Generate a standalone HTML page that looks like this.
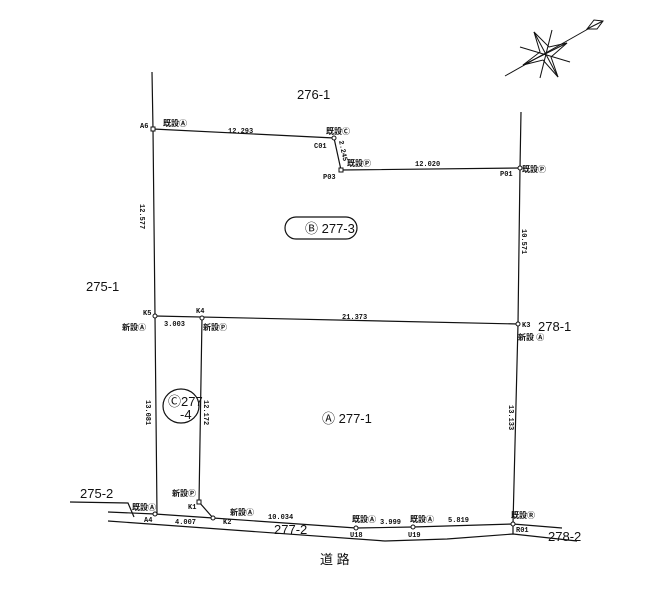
<!DOCTYPE html>
<html><head><meta charset="utf-8"><style>
html,body{margin:0;padding:0;background:#fff;}
svg{display:block;}
text{font-family:"Liberation Sans","Noto Sans CJK JP",sans-serif;fill:#111;}
.s{font-size:7px;font-family:"Liberation Mono",monospace;font-weight:bold;}
.m{font-size:8px;font-weight:bold;}
.l{font-size:13px;}
</style></head><body>
<svg width="662" height="600" viewBox="0 0 662 600" xmlns="http://www.w3.org/2000/svg">
<g stroke="#111" stroke-width="1.2" fill="none">
<polyline points="152,72 153,129 155,316 157,514"/>
<polyline points="521,112 520,168 518,324 513,524"/>
<polyline points="153,129 334,138 341,170 520,168"/>
<line x1="155" y1="316" x2="518" y2="324"/>
<polyline points="202,318 199,502 213,518"/>
<polyline points="108,512 155,514 213,518 356,528 413,527 513,524 562,528"/>
<polyline points="108,521 385,541 447,539 513,534 577,541"/>
<line x1="513" y1="524" x2="513" y2="534"/>
<polyline points="70,502 128,503 134,517"/>
<rect x="285" y="217" width="72" height="22" rx="11"/>
<ellipse cx="181" cy="406" rx="18" ry="17"/>
<g stroke-width="1">
<line x1="505" y1="76" x2="588" y2="29"/>
<polygon points="587,29 594,20 603,21 597,29"/>
<line x1="587" y1="29" x2="603" y2="21"/>
<polygon points="534,32 549,47 567,43 551,57 558,77 543,60 523,65 540,52"/>
<line x1="534" y1="32" x2="558" y2="77"/>
<line x1="523" y1="65" x2="567" y2="43"/>
<line x1="520" y1="47" x2="570" y2="62"/>
<line x1="552" y1="30" x2="540" y2="78"/>
</g>
</g>
<g stroke="#111" stroke-width="1" fill="#fff">
<rect x="151" y="127" width="4" height="4"/>
<circle cx="334" cy="138" r="2"/>
<rect x="339" y="168" width="4" height="4"/>
<circle cx="520" cy="168" r="2"/>
<circle cx="155" cy="316" r="2"/>
<circle cx="202" cy="318" r="2"/>
<circle cx="518" cy="324" r="2"/>
<rect x="197" y="500" width="4" height="4"/>
<circle cx="213" cy="518" r="2"/>
<circle cx="155" cy="514" r="2"/>
<circle cx="356" cy="528" r="2"/>
<circle cx="413" cy="527" r="2"/>
<circle cx="513" cy="524" r="2"/>
</g>
<text class="l" x="297" y="99">276-1</text>
<text class="l" x="86" y="291">275-1</text>
<text class="l" x="538" y="331">278-1</text>
<text class="l" x="80" y="498">275-2</text>
<text class="l" x="548" y="541">278-2</text>
<text class="l" x="274" y="534">277-2</text>
<text class="l" x="320" y="564">道 路</text>
<text class="l" x="305" y="233">Ⓑ 277-3</text>
<text class="l" x="322" y="423">Ⓐ 277-1</text>
<text class="l" x="168" y="406">Ⓒ277</text>
<text class="l" x="180" y="419">-4</text>
<text class="s" x="140" y="128">A6</text>
<text class="m" x="163" y="126">既設Ⓐ</text>
<text class="s" x="228" y="133">12.293</text>
<text class="m" x="326" y="134">既設Ⓒ</text>
<text class="s" x="314" y="148">C01</text>
<text class="s" x="339" y="141" transform="rotate(78 339 141)">2.245</text>
<text class="m" x="347" y="166">既設Ⓟ</text>
<text class="s" x="323" y="179">P03</text>
<text class="s" x="415" y="166">12.020</text>
<text class="s" x="500" y="176">P01</text>
<text class="m" x="522" y="172">既設Ⓟ</text>
<text class="s" x="140" y="204" transform="rotate(90 140 204)">12.577</text>
<text class="s" x="522" y="229" transform="rotate(90 522 229)">10.571</text>
<text class="s" x="143" y="315">K5</text>
<text class="s" x="196" y="313">K4</text>
<text class="m" x="122" y="330">新設Ⓐ</text>
<text class="s" x="164" y="326">3.003</text>
<text class="m" x="203" y="330">新設Ⓟ</text>
<text class="s" x="342" y="319">21.373</text>
<text class="s" x="522" y="327">K3</text>
<text class="m" x="518" y="340">新設 Ⓐ</text>
<text class="s" x="146" y="400" transform="rotate(90 146 400)">13.081</text>
<text class="s" x="204" y="400" transform="rotate(90 204 400)">12.172</text>
<text class="s" x="509" y="405" transform="rotate(90 509 405)">13.133</text>
<text class="m" x="172" y="496">新設Ⓟ</text>
<text class="s" x="188" y="509">K1</text>
<text class="s" x="223" y="524">K2</text>
<text class="m" x="230" y="515">新設Ⓐ</text>
<text class="m" x="132" y="510">既設Ⓐ</text>
<text class="s" x="144" y="522">A4</text>
<text class="s" x="175" y="524">4.007</text>
<text class="s" x="268" y="519">10.034</text>
<text class="m" x="352" y="522">既設Ⓐ</text>
<text class="s" x="380" y="524">3.999</text>
<text class="m" x="410" y="522">既設Ⓐ</text>
<text class="s" x="448" y="522">5.819</text>
<text class="s" x="350" y="537">U18</text>
<text class="s" x="408" y="537">U19</text>
<text class="m" x="511" y="518">既設Ⓡ</text>
<text class="s" x="516" y="532">R01</text>
</svg>
</body></html>
